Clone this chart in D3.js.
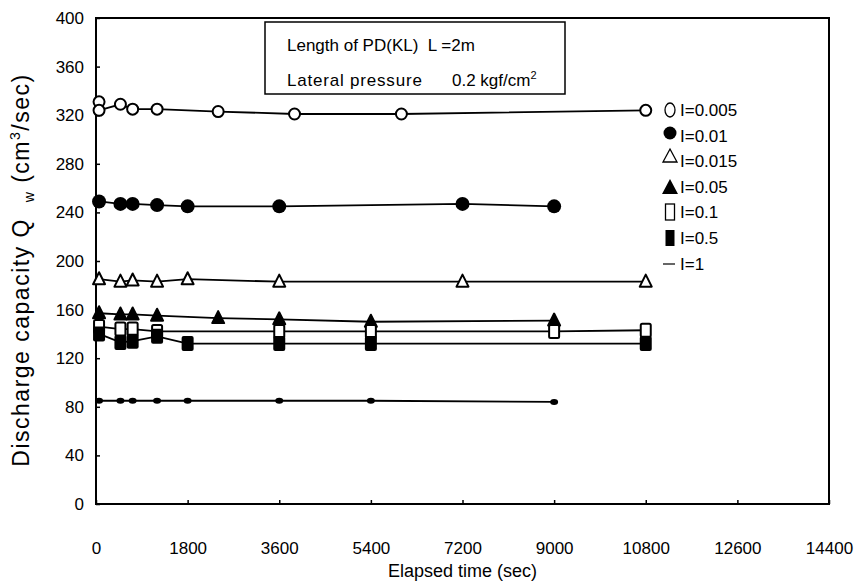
<!DOCTYPE html>
<html><head><meta charset="utf-8">
<script src="https://cdn.jsdelivr.net/npm/d3@7"></script>
<style>body{margin:0;background:#fff}svg{display:block}text{font-family:"Liberation Sans",Arial,sans-serif;fill:#000}</style>
</head><body>
<svg id="c" width="864" height="583"></svg>
<script>
const xTicks = [0,1800,3600,5400,7200,9000,10800,12600,14400];
const yTicks = [0,40,80,120,160,200,240,280,320,360,400];

const tO   = [60,60,480,720,1200,2400,3900,6000,10800];
const vO   = [331,324,329,325,325,323,321,321,324];
const tC   = [60,480,720,1200,1800,3600,7200,9000];
const vC   = [249,247,247,246,245,245,247,245];
const tT   = [60,480,720,1200,1800,3600,7200,10800];
const vT   = [185,183,184,183,185,183,183,183];
const tTF  = [60,480,720,1200,2400,3600,5400,9000];
const vTF  = [157,156,156,155,153,152,150,151];
const tS   = [60,480,720,1200,3600,5400,9000,10800];
const vS   = [146,144,144,142,142,142,142,143];
const tSF  = [60,480,720,1200,1800,3600,5400,10800];
const vSF  = [140,133,134,138,132,132,132,132];
const tD   = [60,480,720,1200,1800,3600,5400,9000];
const vD   = [85,85,85,85,85,85,85,84];

const seriesNames = ["I=0.005","I=0.01","I=0.015","I=0.05","I=0.1","I=0.5","I=1"];
const seriesMarks = ["circle","dot","tri","trifill","rect","rectfill","dash"];
const seriesT = [tO,tC,tT,tTF,tS,tSF,tD];
const seriesV = [vO,vC,vT,vTF,vS,vSF,vD];

const L=96,R=829,T=18,B=504;
const svg=d3.select("#c");
const x=d3.scaleLinear().domain([0,14400]).range([L,R]);
const y=d3.scaleLinear().domain([0,400]).range([B,T]);

// axes
const gx=svg.append("g").attr("transform",`translate(0,${B})`)
  .call(d3.axisBottom(x).tickValues(xTicks).tickSize(-4).tickPadding(38).tickFormat(d3.format("d")));
const gy=svg.append("g").attr("transform",`translate(${L},0)`)
  .call(d3.axisLeft(y).tickValues(yTicks).tickSize(-4).tickPadding(12).tickFormat(d3.format("d")));
[gx,gy].forEach(g=>{g.select(".domain").remove();g.selectAll("line").attr("stroke","#000").attr("stroke-width",1.5);
  g.selectAll("text").style("font-size","17px").attr("fill","#000");});
svg.append("rect").attr("x",L).attr("y",T).attr("width",R-L).attr("height",B-T)
  .attr("fill","none").attr("stroke","#000").attr("stroke-width",2);

// lines
const line=d3.line().x(d=>x(d[0])).y(d=>y(d[1]));
function mark(g,type,cx,cy){
  if(type==="circle") g.append("circle").attr("cx",cx).attr("cy",cy).attr("r",5.5).attr("fill","#fff").attr("stroke","#000").attr("stroke-width",2);
  if(type==="dot") g.append("circle").attr("cx",cx).attr("cy",cy).attr("r",7).attr("fill","#000");
  if(type==="tri"||type==="trifill"){
    const p=d3.path();p.moveTo(cx,cy-7);p.lineTo(cx+6,cy+5);p.lineTo(cx-6,cy+5);p.closePath();
    g.append("path").attr("d",p.toString()).attr("fill",type==="tri"?"#fff":"#000").attr("stroke","#000").attr("stroke-width",2).attr("stroke-linejoin","round");}
  if(type==="rect") g.append("rect").attr("x",cx-5).attr("y",cy-6.5).attr("width",10).attr("height",13).attr("rx",1.5).attr("fill","#fff").attr("stroke","#000").attr("stroke-width",2);
  if(type==="rectfill") g.append("rect").attr("x",cx-6).attr("y",cy-7.5).attr("width",12).attr("height",15).attr("rx",2).attr("fill","#000");
  if(type==="dash") g.append("ellipse").attr("cx",cx).attr("cy",cy).attr("rx",4).attr("ry",3).attr("fill","#000");
}
seriesNames.forEach((n,i)=>{
  const pts=seriesT[i].map((t,j)=>[t,seriesV[i][j]]);
  svg.append("path").datum(pts).attr("d",line).attr("fill","none").attr("stroke","#000").attr("stroke-width",1.8);
});
seriesNames.forEach((n,i)=>{
  const g=svg.append("g");
  seriesT[i].forEach((t,j)=>mark(g,seriesMarks[i],x(t),y(seriesV[i][j])));
});

// legend
const legY=[110,136,161,187,212,238,264];
seriesNames.forEach((n,i)=>{
  const g=svg.append("g");
  const sx=670, sy=legY[i];
  if(seriesMarks[i]==="circle") g.append("ellipse").attr("cx",sx).attr("cy",sy).attr("rx",5).attr("ry",7).attr("fill","none").attr("stroke","#000").attr("stroke-width",1.3);
  else if(seriesMarks[i]==="dot") g.append("circle").attr("cx",sx).attr("cy",sy-3).attr("r",6.5).attr("fill","#000");
  else if(seriesMarks[i]==="tri") g.append("path").attr("d",`M${sx},${sy-12}L${sx+7},${sy+1}L${sx-7},${sy+1}Z`).attr("fill","none").attr("stroke","#000").attr("stroke-width",1.3);
  else if(seriesMarks[i]==="trifill") g.append("path").attr("d",`M${sx},${sy-8}L${sx+8},${sy+7}L${sx-8},${sy+7}Z`).attr("fill","#000");
  else if(seriesMarks[i]==="rect") g.append("rect").attr("x",sx-4.5).attr("y",sy-8).attr("width",9).attr("height",16).attr("fill","none").attr("stroke","#000").attr("stroke-width",1.3);
  else if(seriesMarks[i]==="rectfill") g.append("rect").attr("x",sx-4.5).attr("y",sy-8).attr("width",9).attr("height",16).attr("fill","#000");
  else g.append("line").attr("x1",sx-7).attr("x2",sx+5).attr("y1",sy).attr("y2",sy).attr("stroke","#000").attr("stroke-width",1.2);
  g.append("text").attr("x",sx+10).attr("y",sy+6).style("font-size","17px").text(n);
});

// info box
svg.append("rect").attr("x",265).attr("y",22).attr("width",300).attr("height",72).attr("fill","#fff").attr("stroke","#000").attr("stroke-width",1.5);
svg.append("text").attr("x",287).attr("y",51).style("font-size","17px").attr("xml:space","preserve").text("Length of PD(KL)  L =2m");
svg.append("text").attr("x",287).attr("y",86).style("font-size","17px").style("letter-spacing","0.8px").text("Lateral pressure");
const t2=svg.append("text").attr("x",452).attr("y",86).style("font-size","17px");
t2.append("tspan").text("0.2 kgf/cm");
t2.append("tspan").attr("dy",-7).style("font-size","11px").text("2");

// axis titles
svg.append("text").attr("x",(L+R)/2).attr("y",577).attr("text-anchor","middle").style("font-size","18px").text("Elapsed time (sec)");
const yt=svg.append("text").attr("transform","translate(29,270) rotate(-90)").attr("text-anchor","middle").style("font-size","23px").style("letter-spacing","1.5px").attr("xml:space","preserve");
yt.append("tspan").text("Discharge capacity Q  ");
yt.append("tspan").attr("dy",5).style("font-size","14px").text("w");
yt.append("tspan").attr("dy",-5).text(" (cm");
yt.append("tspan").attr("dy",-9).style("font-size","14px").text("3");
yt.append("tspan").attr("dy",9).text("/sec)");
</script>
</body></html>
